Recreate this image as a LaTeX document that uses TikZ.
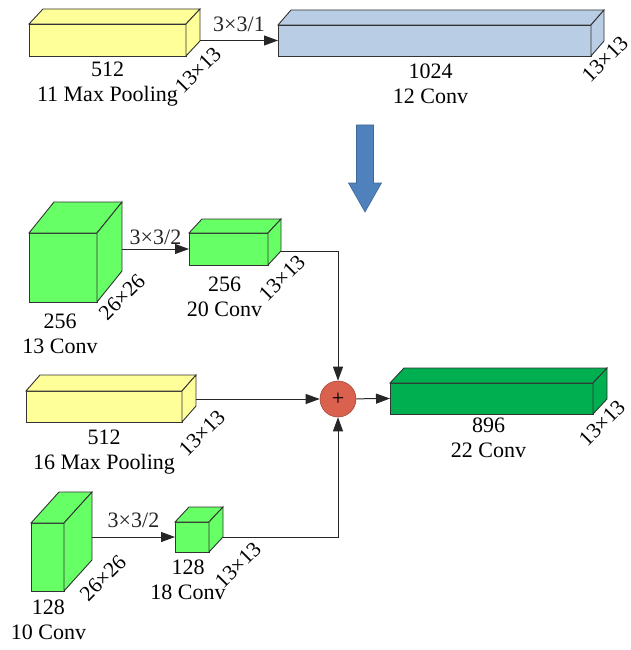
\documentclass[tikz,border=0pt]{standalone}
\usepackage{fontspec}
\setmainfont{Liberation Serif}
\usetikzlibrary{positioning,arrows.meta,calc}

\definecolor{pool}{HTML}{FFFF99}
\definecolor{convblue}{HTML}{B9CDE5}
\definecolor{convgreen}{HTML}{66FF66}
\definecolor{outgreen}{HTML}{00B050}
\definecolor{sumred}{HTML}{D9614E}
\definecolor{bigblue}{HTML}{4F81BD}

% top and side faces drawn from the corners of the front node
\newcommand\depthfaces[4]{%
  \draw[face, fill=#2] (#1.north west) -- ++(#3,#4) -- ([shift={(#3,#4)}]#1.north east) -- (#1.north east) -- cycle;
  \draw[face, fill=#2] (#1.north east) -- ([shift={(#3,#4)}]#1.north east) -- ([shift={(#3,#4)}]#1.south east) coordinate (#1-br) -- (#1.south east) -- cycle;
}

\begin{document}
\begin{tikzpicture}[x=1pt, y=-1pt,
    blk/.style={draw=black!80, line width=0.9pt, inner sep=0pt, outer sep=0pt},
    face/.style={draw=black!80, line width=0.9pt},
    lbl/.style={font=\fontsize{22}{24.5}\selectfont, align=center, inner sep=0pt},
    dim/.style={font=\fontsize{21.5}{24}\selectfont, rotate=45, inner sep=0pt},
    link/.style={line width=1pt, black!85, -{Triangle[length=14pt,width=10pt]}}]
    \useasboundingbox (0,0) rectangle (630,650);

    % Top row
    \node[blk, fill=pool, minimum width=157pt, minimum height=32pt] (b11) at (107.5,40) {};
    \depthfaces{b11}{pool}{14}{-15}
    \node[blk, fill=convblue, minimum width=313pt, minimum height=31pt] (b12) at (434.5,40.5) {};
    \depthfaces{b12}{convblue}{13}{-15}
    \draw[link] (b12.west -| b11-br) -- (b12.west) node[midway, above=8pt, lbl] {3×3/1};

    \node[lbl, below=6pt of b11] (t11) {512\\11 Max Pooling};
    \node[lbl, below=8pt of b12, xshift=-4pt] (t12) {1024\\12 Conv};
    \node[dim] (d11) at ([shift={(-2,29)}]b11-br) {13×13};
    \node[dim] (d12) at ([shift={(1,18)}]b12-br) {13×13};

    % Big arrow
    \draw[fill=bigblue, draw=bigblue!80!black, line width=0.6pt]
        (356.5,125) -- (373.5,125) -- (373.5,183) -- (381.5,183) -- (365,212)
        -- (348.5,183) -- (356.5,183) -- cycle;

    % Branch 13 -> 20
    \node[blk, fill=convgreen, minimum width=68pt, minimum height=69pt] (b13) at (63,267.5) {};
    \depthfaces{b13}{convgreen}{25}{-31}
    \node[blk, fill=convgreen, minimum width=79pt, minimum height=32pt] (b20) at (228.5,249) {};
    \depthfaces{b20}{convgreen}{13}{-14}
    \draw[link] (b20.west -| b13-br) -- (b20.west) node[midway, above=4pt, lbl] {3×3/2};

    \node[lbl, below=12pt of b13, xshift=-3pt] (t13) {256\\13 Conv};
    \node[lbl, below=12pt of b20, xshift=-4pt] (t20) {256\\20 Conv};
    \node[dim] (d13) at ([shift={(0,26)}]b13-br) {26×26};
    \node[dim] (d20) at ([shift={(1,27)}]b20-br) {13×13};

    % Branch 16
    \node[blk, fill=pool, minimum width=156pt, minimum height=31pt] (b16) at (104,406.5) {};
    \depthfaces{b16}{pool}{14}{-16}
    \node[lbl, below=8pt of b16] (t16) {512\\16 Max Pooling};
    \node[dim] (d16) at ([shift={(6,27)}]b16-br) {13×13};

    % Branch 10 -> 18
    \node[blk, fill=convgreen, minimum width=33pt, minimum height=68pt] (b10) at (47.5,557) {};
    \depthfaces{b10}{convgreen}{28}{-31}
    \node[blk, fill=convgreen, minimum width=34pt, minimum height=30pt] (b18) at (192,537) {};
    \depthfaces{b18}{convgreen}{14}{-15}
    \draw[link] (b18.west -| b10-br) -- (b18.west) node[midway, above=9pt, lbl] {3×3/2};

    \node[lbl, below=9pt of b10, xshift=1pt] (t10) {128\\10 Conv};
    \node[lbl, below=8pt of b18, xshift=-4pt] (t18) {128\\18 Conv};
    \node[dim] (d10) at ([shift={(11,18)}]b10-br) {26×26};
    \node[dim] (d18) at ([shift={(15,28)}]b18-br) {13×13};

    % Sum and output
    \node[circle, draw=sumred!75!black, fill=sumred, line width=0.6pt, minimum size=36pt, inner sep=0pt,
          font=\fontsize{22}{22}\selectfont] (sum) at (338,399) {+};
    \node[blk, fill=outgreen, minimum width=203pt, minimum height=31pt] (b22) at (491.5,398.5) {};
    \depthfaces{b22}{outgreen}{14}{-15}
    \node[lbl, below=4pt of b22, xshift=-3pt] (t22) {896\\22 Conv};
    \node[dim] (d22) at ([shift={(-5,24)}]b22-br) {13×13};

    \draw[link] (b20-br) -| (sum.north);
    \draw[link] (sum.west -| b16-br) -- (sum.west);
    \draw[link] (b18-br) -| (sum.south);
    \draw[link] (sum) -- (b22.west);
\end{tikzpicture}
\end{document}
